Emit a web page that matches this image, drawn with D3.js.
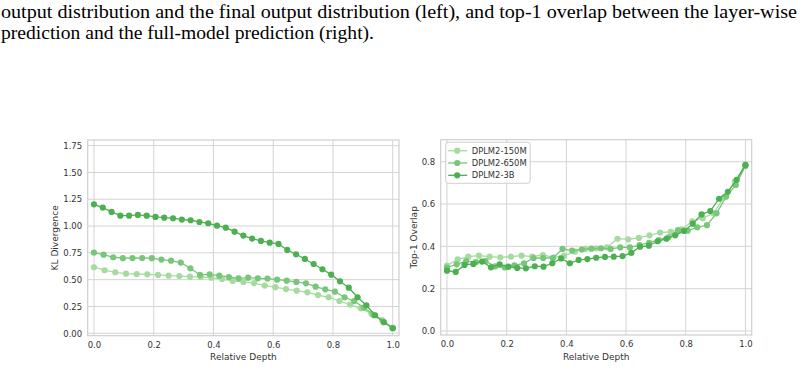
<!DOCTYPE html>
<html><head><meta charset="utf-8">
<script src="https://cdn.jsdelivr.net/npm/d3@7"></script>
<style>body{margin:0;background:#fff}svg{display:block}</style>
</head><body>
<svg id="c" width="804" height="368"></svg>
<script>
// ---------- data ----------
const captionLines = [
  "output distribution and the final output distribution (left), and top-1 overlap between the layer-wise",
  "prediction and the full-model prediction (right)."
];
const seriesNames = ["DPLM2-150M", "DPLM2-650M", "DPLM2-3B"];
const seriesColors = ["#a6dba0", "#78c679", "#4cb050"];
const xTicks = [0.0, 0.2, 0.4, 0.6, 0.8, 1.0];
const klTicks = [0.00, 0.25, 0.50, 0.75, 1.00, 1.25, 1.50, 1.75];
const overlapTicks = [0.0, 0.2, 0.4, 0.6, 0.8];

const kl150M = [0.616,0.588,0.569,0.556,0.553,0.55,0.544,0.537,0.534,0.528,0.525,0.519,0.506,0.488,0.479,0.468,0.445,0.43,0.412,0.397,0.382,0.356,0.336,0.301,0.268,0.233,0.182,0.124,0.048];
const kl650M = [0.752,0.733,0.709,0.70,0.702,0.702,0.70,0.687,0.677,0.659,0.606,0.544,0.55,0.537,0.525,0.513,0.519,0.513,0.51,0.50,0.491,0.479,0.466,0.435,0.41,0.388,0.336,0.30,0.24,0.17,0.11,0.05];
const kl3B = [1.203,1.172,1.132,1.097,1.097,1.104,1.097,1.085,1.078,1.073,1.06,1.054,1.038,1.026,1.004,0.985,0.948,0.911,0.883,0.861,0.845,0.833,0.777,0.737,0.693,0.646,0.597,0.547,0.485,0.425,0.336,0.261,0.168,0.103,0.047];

const ov150M = [0.309,0.339,0.351,0.356,0.351,0.348,0.351,0.356,0.351,0.359,0.348,0.356,0.375,0.388,0.39,0.395,0.436,0.433,0.44,0.452,0.465,0.469,0.48,0.518,0.533,0.556,0.632,0.706,0.785];
const ov650M = [0.30,0.315,0.33,0.325,0.33,0.305,0.30,0.31,0.32,0.345,0.345,0.345,0.388,0.38,0.385,0.389,0.391,0.388,0.395,0.395,0.406,0.417,0.43,0.443,0.477,0.474,0.49,0.50,0.556,0.635,0.69,0.78];
const ov3B = [0.285,0.279,0.312,0.317,0.328,0.301,0.315,0.304,0.298,0.296,0.306,0.304,0.32,0.343,0.32,0.336,0.34,0.346,0.35,0.351,0.354,0.369,0.398,0.403,0.424,0.436,0.452,0.473,0.507,0.551,0.567,0.625,0.658,0.714,0.785];

// ---------- drawing ----------
const svg = d3.select("#c");
const gridColor = "#d4d4d4";
const frameColor = "#cfcfcf";
const textColor = "#333333";
const sansFont = "DejaVu Sans, sans-serif";

// caption
svg.selectAll("text.cap").data(captionLines).join("text")
  .attr("class", "cap")
  .attr("x", 1)
  .attr("y", (d, i) => 18 + i * 21)
  .attr("font-family", "Liberation Serif, Times New Roman, serif")
  .attr("font-size", 19)
  .attr("fill", "#000")
  .attr("textLength", (d, i) => i === 0 ? 796 : 373)
  .attr("lengthAdjust", "spacingAndGlyphs")
  .text(d => d);

function panel(cfg) {
  const g = svg.append("g");
  const x = d3.scaleLinear().domain([-0.021, 1.021]).range([cfg.left, cfg.right]);
  const y = d3.scaleLinear().domain(cfg.yDomain).range([cfg.bottom, cfg.top]);

  // grid
  g.append("g").selectAll("line").data(xTicks).join("line")
    .attr("x1", d => x(d)).attr("x2", d => x(d))
    .attr("y1", cfg.top).attr("y2", cfg.bottom)
    .attr("stroke", gridColor).attr("stroke-width", 1);
  g.append("g").selectAll("line").data(cfg.yTicks).join("line")
    .attr("y1", d => y(d)).attr("y2", d => y(d))
    .attr("x1", cfg.left).attr("x2", cfg.right)
    .attr("stroke", gridColor).attr("stroke-width", 1);

  // axes (labels only, via d3 axis)
  const xAxis = d3.axisBottom(x).tickValues(xTicks).tickFormat(d3.format(".1f")).tickSize(0).tickPadding(6);
  const gx = g.append("g").attr("transform", `translate(0,${cfg.bottom})`).call(xAxis);
  gx.select(".domain").remove();
  gx.selectAll("text").attr("font-family", sansFont).attr("font-size", 8.5).attr("fill", textColor);

  const yAxis = d3.axisLeft(y).tickValues(cfg.yTicks).tickFormat(d3.format(cfg.yFormat)).tickSize(0).tickPadding(5.5);
  const gy = g.append("g").attr("transform", `translate(${cfg.left},0)`).call(yAxis);
  gy.select(".domain").remove();
  gy.selectAll("text").attr("font-family", sansFont).attr("font-size", 8.5).attr("fill", textColor);

  // frame
  g.append("rect")
    .attr("x", cfg.left).attr("y", cfg.top)
    .attr("width", cfg.right - cfg.left).attr("height", cfg.bottom - cfg.top)
    .attr("fill", "none").attr("stroke", frameColor).attr("stroke-width", 1.2);

  // axis labels
  g.append("text")
    .attr("x", (cfg.left + cfg.right) / 2).attr("y", 359.5)
    .attr("text-anchor", "middle")
    .attr("font-family", sansFont).attr("font-size", 9).attr("fill", textColor)
    .text("Relative Depth");
  g.append("text")
    .attr("transform", `translate(${cfg.ylabelX},${(cfg.top + cfg.bottom) / 2}) rotate(-90)`)
    .attr("text-anchor", "middle")
    .attr("font-family", sansFont).attr("font-size", 9).attr("fill", textColor)
    .text(cfg.ylabel);

  // series
  const line = d3.line().x(d => x(d.t)).y(d => y(d.v));
  cfg.series.forEach((vals, si) => {
    const pts = vals.map((v, i) => ({ t: i / (vals.length - 1), v }));
    const sg = g.append("g");
    sg.append("path").datum(pts)
      .attr("d", line).attr("fill", "none")
      .attr("stroke", seriesColors[si]).attr("stroke-width", 1.3);
    sg.selectAll("circle").data(pts).join("circle")
      .attr("cx", d => x(d.t)).attr("cy", d => y(d.v)).attr("r", 3.1)
      .attr("fill", seriesColors[si]);
  });

  return { g, x, y };
}

panel({
  left: 87.7, right: 399, top: 140, bottom: 335.7,
  yDomain: [-0.0225, 1.8025], yTicks: klTicks, yFormat: ".2f",
  ylabel: "KL Divergence", ylabelX: 58,
  series: [kl150M, kl650M, kl3B]
});

panel({
  left: 440.7, right: 751.7, top: 139.7, bottom: 335,
  yDomain: [-0.019, 0.904], yTicks: overlapTicks, yFormat: ".1f",
  ylabel: "Top-1 Overlap", ylabelX: 416.5,
  series: [ov150M, ov650M, ov3B]
});

// legend
const lg = svg.append("g").attr("transform", "translate(445.7,142.3)");
lg.append("rect").attr("width", 84.5).attr("height", 41).attr("rx", 2.5)
  .attr("fill", "#fff").attr("fill-opacity", 0.85)
  .attr("stroke", "#d0d0d0").attr("stroke-width", 1);
const items = lg.selectAll("g.item").data(seriesNames).join("g")
  .attr("class", "item")
  .attr("transform", (d, i) => `translate(0,${8.4 + i * 12.3})`);
items.append("line").attr("x1", 2.5).attr("x2", 21.5).attr("y1", 0).attr("y2", 0)
  .attr("stroke", (d, i) => seriesColors[i]).attr("stroke-width", 1.3);
items.append("circle").attr("cx", 11.5).attr("cy", 0).attr("r", 3.1)
  .attr("fill", (d, i) => seriesColors[i]);
items.append("text").attr("x", 26).attr("y", 3)
  .attr("font-family", sansFont).attr("font-size", 8.4).attr("fill", textColor)
  .text(d => d);
</script>
</body></html>
